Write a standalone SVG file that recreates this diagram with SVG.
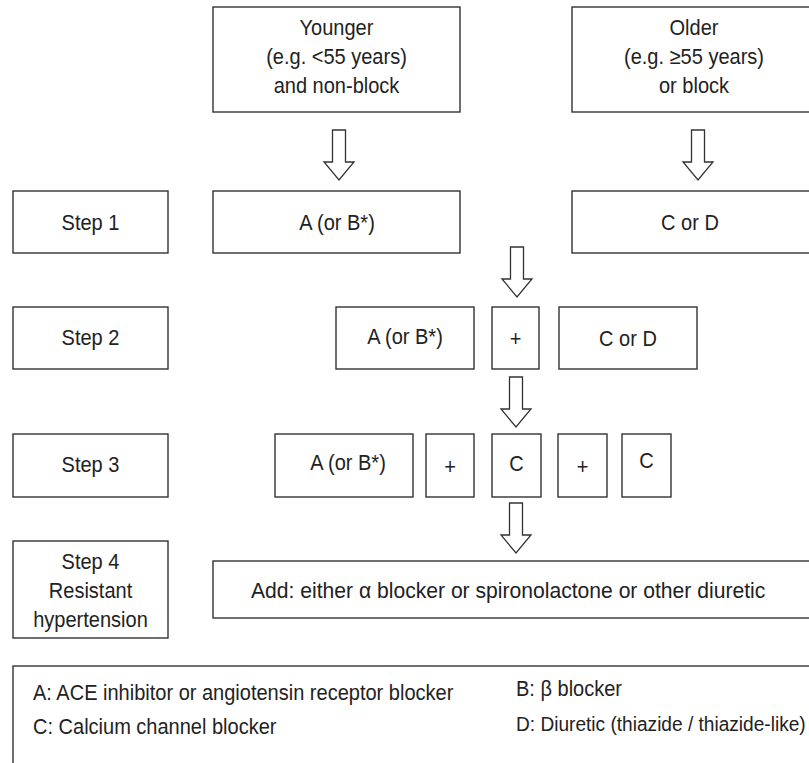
<svg xmlns="http://www.w3.org/2000/svg" width="809" height="763" viewBox="0 0 809 763">
<defs>
<style>
.box{fill:#fff;stroke:#333;stroke-width:1.4}
.t{font-family:"Liberation Sans",Arial,sans-serif;font-size:22px;fill:#222;text-anchor:middle}
.l{font-family:"Liberation Sans",Arial,sans-serif;font-size:22px;fill:#222}
.arrow{fill:#fff;stroke:#333;stroke-width:1.3}
</style>
<path id="arr" d="M-6.5,0 H6.5 V32 H15 L0,50 L-15,32 H-6.5 Z"/>
</defs>
<rect width="809" height="763" fill="#fff"/>

<g id="connectors">
<use href="#arr" class="arrow" x="339" y="130"/>
<use href="#arr" class="arrow" x="698" y="130"/>
<use href="#arr" class="arrow" x="517" y="247"/>
<use href="#arr" class="arrow" x="516" y="377"/>
<use href="#arr" class="arrow" x="516" y="503"/>
</g>

<g id="younger">
<rect class="box" x="213" y="7" width="247" height="105"/>
<text class="t" transform="translate(336.5,35) scale(0.91,1)">Younger</text>
<text class="t" transform="translate(336.5,64) scale(0.91,1)">(e.g. &lt;55 years)</text>
<text class="t" transform="translate(336.5,93) scale(0.91,1)">and non-block</text>
</g>
<g id="older">
<rect class="box" x="572" y="7" width="250" height="105"/>
<text class="t" transform="translate(694,35) scale(0.91,1)">Older</text>
<text class="t" transform="translate(694,64) scale(0.91,1)">(e.g. ≥55 years)</text>
<text class="t" transform="translate(694,93) scale(0.91,1)">or block</text>
</g>

<g id="step1">
<rect class="box" x="13" y="191" width="155" height="62"/>
<text class="t" transform="translate(90.5,230) scale(0.91,1)">Step 1</text>
</g>
<g id="s1-a">
<rect class="box" x="213" y="191" width="247" height="62"/>
<text class="t" transform="translate(337,230) scale(0.91,1)">A (or B*)</text>
</g>
<g id="s1-cd">
<rect class="box" x="572" y="191" width="250" height="62"/>
<text class="t" transform="translate(690,230) scale(0.91,1)">C or D</text>
</g>

<g id="step2">
<rect class="box" x="13" y="307" width="155" height="62"/>
<text class="t" transform="translate(90.5,345) scale(0.91,1)">Step 2</text>
</g>
<g id="s2-a">
<rect class="box" x="336" y="307" width="138" height="62"/>
<text class="t" transform="translate(405,344) scale(0.91,1)">A (or B*)</text>
</g>
<g id="s2-plus">
<rect class="box" x="492" y="307" width="47" height="62"/>
<text class="t" transform="translate(515.5,346) scale(0.91,1)">+</text>
</g>
<g id="s2-cd">
<rect class="box" x="559" y="307" width="138" height="62"/>
<text class="t" transform="translate(628,346) scale(0.91,1)">C or D</text>
</g>

<g id="step3">
<rect class="box" x="13" y="434" width="155" height="63"/>
<text class="t" transform="translate(90.5,472) scale(0.91,1)">Step 3</text>
</g>
<g id="s3-a">
<rect class="box" x="275" y="434" width="138" height="63"/>
<text class="t" transform="translate(348,470) scale(0.91,1)">A (or B*)</text>
</g>
<g id="s3-plus1">
<rect class="box" x="426" y="434" width="48" height="63"/>
<text class="t" transform="translate(450,474) scale(0.91,1)">+</text>
</g>
<g id="s3-c1">
<rect class="box" x="492" y="434" width="49" height="63"/>
<text class="t" transform="translate(516.5,471) scale(0.91,1)">C</text>
</g>
<g id="s3-plus2">
<rect class="box" x="558" y="434" width="49" height="63"/>
<text class="t" transform="translate(582.5,474) scale(0.91,1)">+</text>
</g>
<g id="s3-c2">
<rect class="box" x="622" y="434" width="49" height="63"/>
<text class="t" transform="translate(646.5,468) scale(0.91,1)">C</text>
</g>

<g id="step4">
<rect class="box" x="13" y="541" width="155" height="97"/>
<text class="t" transform="translate(90.5,569) scale(0.91,1)">Step 4</text>
<text class="t" transform="translate(90.5,598) scale(0.91,1)">Resistant</text>
<text class="t" transform="translate(90.5,627) scale(0.91,1)">hypertension</text>
</g>
<g id="s4-add">
<rect class="box" x="213" y="561" width="609" height="57"/>
<text class="l" transform="translate(251,598) scale(0.96,1)">Add: either α blocker or spironolactone or other diuretic</text>
</g>

<g id="legend">
<rect class="box" x="13" y="666" width="809" height="120"/>
<text class="l" transform="translate(33,700) scale(0.91,1)">A: ACE inhibitor or angiotensin receptor blocker</text>
<text class="l" transform="translate(33,734) scale(0.91,1)">C: Calcium channel blocker</text>
<text class="l" transform="translate(516,696) scale(0.91,1)">B: β blocker</text>
<text class="l" transform="translate(516,731) scale(0.91,1)" style="font-size:21px">D: Diuretic (thiazide / thiazide-like)</text>
</g>
</svg>
